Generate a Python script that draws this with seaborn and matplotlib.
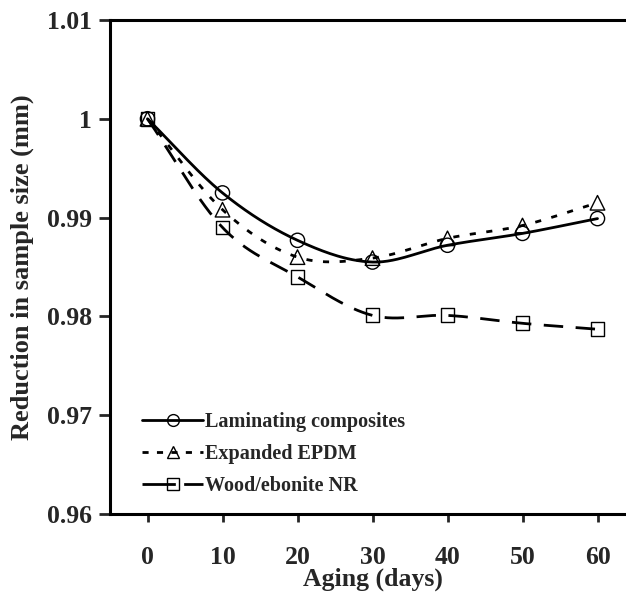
import numpy as np
import matplotlib
matplotlib.use("Agg")
import matplotlib.pyplot as plt
from matplotlib.lines import Line2D
import seaborn as sns

days = [0, 10, 20, 30, 40, 50, 60]
laminating = [1.0, 0.9925, 0.9877, 0.9855, 0.9872, 0.9884, 0.9899]
epdm = [1.0, 0.9908, 0.9860, 0.9859, 0.9879, 0.9892, 0.9915]
wood = [1.0, 0.9890, 0.9840, 0.9801, 0.9801, 0.9793, 0.9787]
series_names = ["Laminating composites", "Expanded EPDM", "Wood/ebonite NR"]
xticks = [0, 10, 20, 30, 40, 50, 60]
yticks = [0.96, 0.97, 0.98, 0.99, 1.0, 1.01]
yticklabels = ["0.96", "0.97", "0.98", "0.99", "1", "1.01"]


def smooth(x, y, n=30):
    # Catmull-Rom (Excel-like smoothed line) through the data points
    x = np.asarray(x, float)
    y = np.asarray(y, float)
    px = np.concatenate([[2 * x[0] - x[1]], x, [2 * x[-1] - x[-2]]])
    py = np.concatenate([[2 * y[0] - y[1]], y, [2 * y[-1] - y[-2]]])
    outx, outy = [], []
    t = np.linspace(0, 1, n, endpoint=False)
    for i in range(1, len(px) - 2):
        for P, out in ((px, outx), (py, outy)):
            p0, p1, p2, p3 = P[i - 1], P[i], P[i + 1], P[i + 2]
            c1 = p1 + (p2 - p0) / 6
            c2 = p2 - (p3 - p1) / 6
            b = ((1 - t) ** 3 * p1 + 3 * (1 - t) ** 2 * t * c1
                 + 3 * (1 - t) * t ** 2 * c2 + t ** 3 * p2)
            out.extend(b)
    outx.append(x[-1])
    outy.append(y[-1])
    return np.array(outx), np.array(outy)


sns.set_style("white")
plt.rcParams["font.family"] = ["Liberation Serif", "DejaVu Serif"]
plt.rcParams["font.weight"] = "bold"

fig = plt.figure(figsize=(6.26, 5.93), dpi=100)
ax = fig.add_axes([110 / 626, 79 / 593, 525 / 626, 494 / 593])

styles = [
    dict(dashes=None, marker="o", s=105),
    dict(dashes=(2.2, 3.8), marker="^", s=110),
    dict(dashes=(7, 4.5), marker="s", s=100),
]
lw = 2.0
for vals, st in zip([laminating, epdm, wood], styles):
    sx, sy = smooth(days, vals)
    sns.lineplot(x=sx, y=sy, color="black", linewidth=lw, ax=ax, legend=False,
                 sort=False, estimator=None)
    ln = ax.lines[-1]
    if st["dashes"] is not None:
        ln.set_dashes(st["dashes"])
    sns.scatterplot(x=days, y=vals, marker=st["marker"], s=st["s"],
                    facecolors="none", edgecolor="black", linewidth=1.0, ax=ax,
                    legend=False, zorder=5)

ax.set_xlim(-5, 65)
ax.set_ylim(0.96, 1.01)
ax.set_xticks(xticks)
ax.set_xticklabels([str(v) for v in xticks], fontsize=18.5, fontweight="bold")
ax.set_yticks(yticks)
ax.set_yticklabels(yticklabels, fontsize=18.5, fontweight="bold")
ax.tick_params(axis="x", direction="out", length=6, width=2, pad=17, bottom=True)
ax.tick_params(axis="y", direction="out", length=8, width=2, pad=5, left=True)
for side in ["left", "bottom", "top"]:
    ax.spines[side].set_linewidth(2.2)
    ax.spines[side].set_color("black")
ax.spines["right"].set_visible(False)

ax.set_xlabel("Aging (days)", fontsize=18.5, fontweight="bold", labelpad=-1)
ax.set_ylabel("Reduction in sample size (mm)", fontsize=19, fontweight="bold", labelpad=9)

handles = []
for st in styles:
    h = Line2D([0], [0], color="black", linewidth=lw, marker=st["marker"],
               markersize=8.5, markerfacecolor="none", markeredgecolor="black",
               markeredgewidth=1.0)
    if st["dashes"] is not None:
        h.set_dashes((2.2, 3.0) if st["marker"] == "^" else (12, 3))
    handles.append(h)
leg = ax.legend(handles, series_names, loc="lower left", bbox_to_anchor=(0.027, 0.0),
                frameon=False, handlelength=3.0, handletextpad=0.1, labelspacing=0.6,
                prop=dict(family="Liberation Serif", weight="bold", size=14.5))

fig.savefig("out.png", dpi=100)
